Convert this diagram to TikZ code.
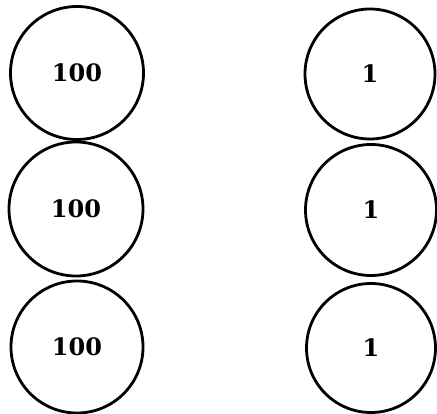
\documentclass[tikz,border=0pt]{standalone}
\usepackage{fontspec}
\newfontfamily\numfont{DejaVu Serif}
\begin{document}
\begin{tikzpicture}[x=1pt,y=1pt,
  ball/.style={circle,draw=black,line width=2.8pt,minimum size=#1,inner sep=0pt,font=\numfont\bfseries\fontsize{24}{28}\selectfont}]
\useasboundingbox (0,0) rectangle (437,-414);
\node[ball=133pt] (l1) at (77,-73) {100};
\node[ball=134pt] (l2) at (76,-209) {100};
\node[ball=132pt] (l3) at (77,-347) {100};
\node[ball=130pt] (r1) at (370,-74) {1};
\node[ball=131pt] (r2) at (371,-210) {1};
\node[ball=129pt] (r3) at (371,-348) {1};
\end{tikzpicture}
\end{document}
